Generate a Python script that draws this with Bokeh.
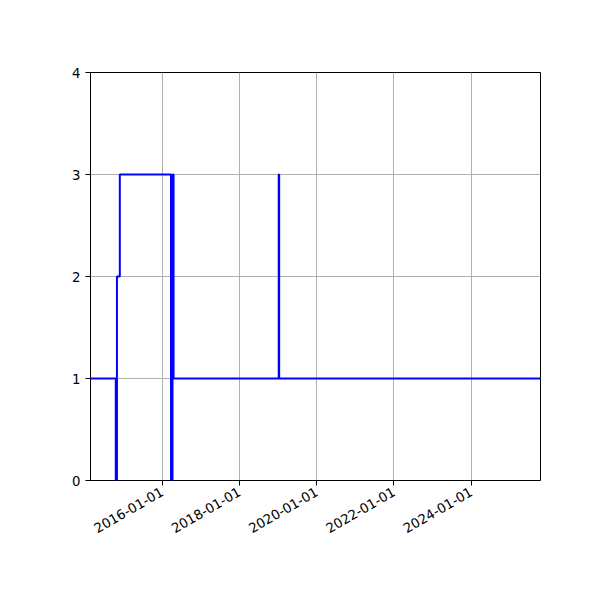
import math
import pandas as pd
from bokeh.plotting import figure
from bokeh.models import FixedTicker, DatetimeTickFormatter, Range1d
from bokeh.embed import file_html
from bokeh.resources import INLINE

# change dates (step "after") and values
change_dates = ["2014-02-24", "2014-10-21", "2014-11-01", "2014-11-28",
                "2016-03-26", "2016-04-09", "2016-04-19",
                "2019-01-08", "2019-01-12", "2025-10-17"]
values = [1, 0, 2, 3, 0, 3, 1, 3, 1, 1]
x_tick_labels = ["2016-01-01", "2018-01-01", "2020-01-01", "2022-01-01", "2024-01-01"]
y_ticks = [0, 1, 2, 3, 4]

dates = pd.to_datetime(change_dates)
ms = lambda d: pd.Timestamp(d).value / 1e6

p = figure(width=600, height=600, x_axis_type="datetime",
           output_backend="svg", toolbar_location=None,
           frame_width=450, frame_height=408,
           min_border_left=90, min_border_top=72,
           min_border_right=60, min_border_bottom=120,
           x_range=Range1d(ms(change_dates[0]), ms(change_dates[-1])),
           y_range=Range1d(0, 4))

p.step(dates, values, mode="after", line_color="blue", line_width=2)

p.xaxis.ticker = FixedTicker(ticks=[ms(d) for d in x_tick_labels])
fmt = "%Y-%m-%d"
p.xaxis.formatter = DatetimeTickFormatter(days=fmt, months=fmt, years=fmt,
                                          hours=fmt, minutes=fmt, seconds=fmt,
                                          milliseconds=fmt, microseconds=fmt,
                                          hourmin=fmt, minsec=fmt)
p.xaxis.major_label_orientation = math.pi / 6
p.yaxis.ticker = FixedTicker(ticks=y_ticks)

for ax in (p.xaxis, p.yaxis):
    ax.major_label_text_font = "DejaVu Sans"
    ax.major_label_text_font_size = "13.3px"
    ax.major_label_text_color = "black"
    ax.major_tick_out = 5
    ax.major_tick_in = 0
    ax.minor_tick_out = 0
    ax.minor_tick_in = 0
    ax.axis_line_color = None
    ax.major_tick_line_color = "black"
    ax.major_tick_line_width = 1

p.grid.grid_line_color = "#b0b0b0"
p.grid.grid_line_width = 1
p.outline_line_color = "black"
p.outline_line_width = 1
p.outline_line_alpha = 1
p.background_fill_color = "white"
p.border_fill_color = "white"

open("out.html", "w").write(file_html(p, INLINE))
